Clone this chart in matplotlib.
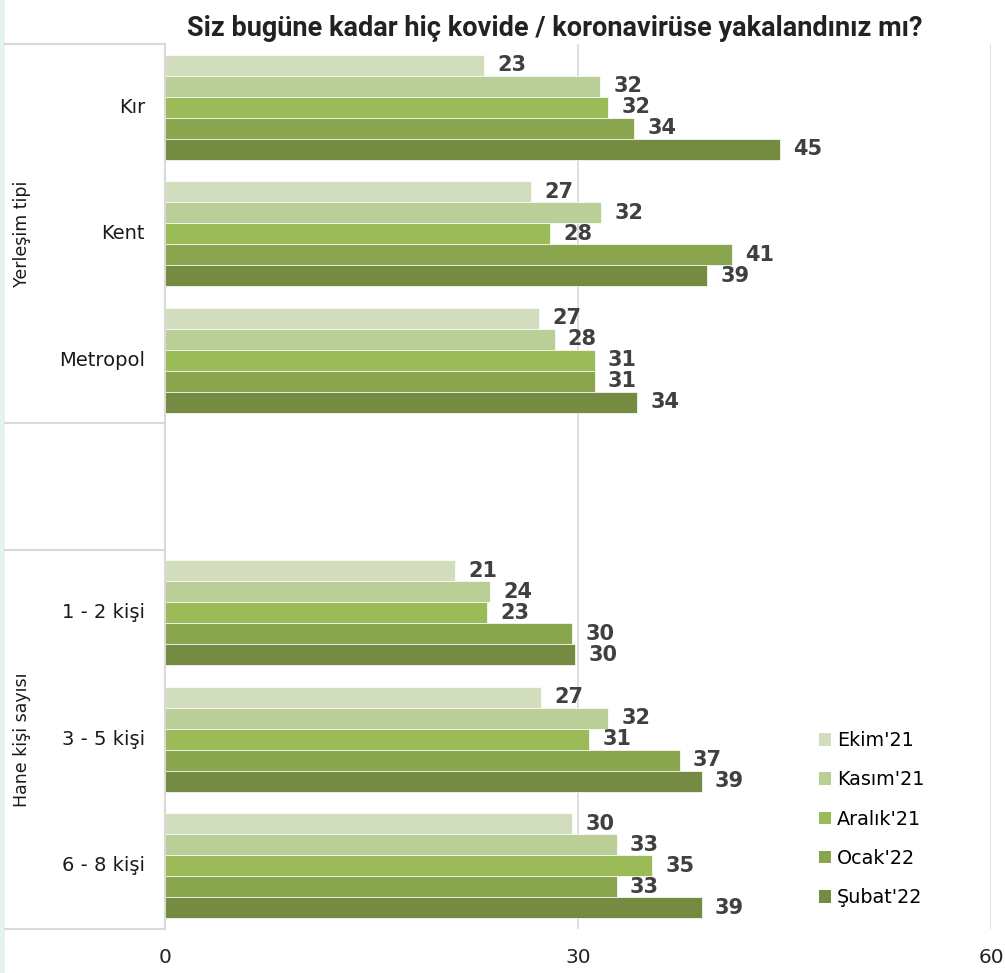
import numpy as np
import matplotlib
matplotlib.use("Agg")
import matplotlib.pyplot as plt
from matplotlib.patches import Patch, Rectangle
from matplotlib.lines import Line2D

plt.rcParams['font.family'] = ['DejaVu Sans']

# data
categories = ["Kır", "Kent", "Metropol", "", "1 - 2 kişi", "3 - 5 kişi", "6 - 8 kişi"]
series = ["Ekim'21", "Kasım'21", "Aralık'21", "Ocak'22", "Şubat'22"]
ekim   = [23.2, 26.6, 27.2, np.nan, 21.1, 27.3, 29.6]
kasim  = [31.6, 31.7, 28.3, np.nan, 23.6, 32.2, 32.8]
aralik = [32.2, 28.0, 31.2, np.nan, 23.4, 30.8, 35.4]
ocak   = [34.1, 41.2, 31.2, np.nan, 29.6, 37.4, 32.8]
subat  = [44.7, 39.4, 34.3, np.nan, 29.8, 39.0, 39.0]
values = [ekim, kasim, aralik, ocak, subat]
colors = ["#d2ddbd", "#b9cf97", "#9bbb59", "#89a54e", "#758b42"]
groups = [("Yerleşim tipi", 0, 2), ("Hane kişi sayısı", 4, 6)]
title = "Siz bugüne kadar hiç kovide / koronavirüse yakalandınız mı?"

W, H = 1006, 973
fig = plt.figure(figsize=(W / 100, H / 100), dpi=100)
ax = fig.add_axes([165 / W, 1 - 929 / H, (991 - 165) / W, (929 - 44) / H])

# slide background strip on the far left
fig.add_artist(Rectangle((0, 0), 5 / W, 1, transform=fig.transFigure,
                         color="#e4f3f1", lw=0, zorder=0))

y = np.arange(len(categories))
bh = 0.166
for i, (vals, col) in enumerate(zip(values, colors)):
    pos = y + (i - 2) * bh
    ax.barh(pos, vals, height=bh, color=col, edgecolor="white", linewidth=0.5, zorder=2)
    for p, v in zip(pos, vals):
        if np.isnan(v):
            continue
        ax.text(v + 0.95, p, f"{v:.0f}", va="center", ha="left",
                fontsize=15, fontweight="bold", color="#404040", zorder=3)

ax.set_xlim(0, 60)
ax.set_ylim(6.5, -0.5)
ax.set_xticks([0, 30, 60])
ax.set_xticklabels(["0", "30", "60"], fontsize=14.5, color="#222222")
ax.tick_params(axis="x", length=0, pad=14)
ax.set_yticks([])
ax.grid(axis="x", color="#d9d9d9", lw=1.2, zorder=0)
for s in ["top", "right", "bottom"]:
    ax.spines[s].set_visible(False)
ax.spines["left"].set_color("#d9d9d9")
ax.spines["left"].set_linewidth(1.5)

# category labels
for yi, c in zip(y, categories):
    ax.text(-20 / 13.77, yi, c, ha="right", va="center", fontsize=14,
            color="#1a1a1a", clip_on=False)

# left table lines
xl = 5 / W
xr = 165 / W
for b in [-0.5, 2.5, 3.5, 6.5]:
    yy = ax.transData.transform((0, b))[1]
    yy = fig.transFigure.inverted().transform((0, yy))[1]
    fig.add_artist(Line2D([xl, xr], [yy, yy], color="#d9d9d9", lw=1.5,
                          transform=fig.transFigure))

# group labels
for name, a, b in groups:
    yc = (a + b) / 2
    yy = ax.transData.transform((0, yc))[1]
    yy = fig.transFigure.inverted().transform((0, yy))[1]
    fig.text(22 / W, yy, name, rotation=90, ha="center", va="center",
             fontsize=12.5, color="#1a1a1a")

fig.text(555 / W, 1 - 28 / H, title, ha="center", va="center",
         fontsize=19.5, fontweight="bold", color="#222222", family="Roboto")

handles = [Patch(facecolor=c, edgecolor="none", label=s) for c, s in zip(colors, series)]
fig.legend(handles=handles, loc="upper left", bbox_to_anchor=(819 / W, 1 - 731 / H),
           frameon=False, fontsize=13.8, handlelength=0.63, handleheight=0.63,
           handletextpad=0.3, labelspacing=1.06, borderaxespad=0, borderpad=0)

fig.savefig("out.png", dpi=100)
